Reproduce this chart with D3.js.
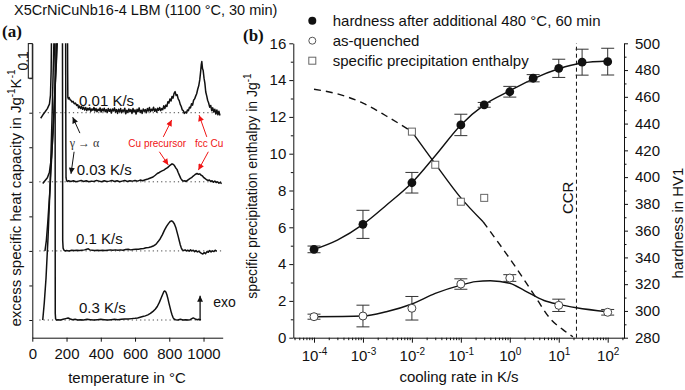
<!DOCTYPE html>
<html>
<head>
<meta charset="utf-8">
<script src="https://cdn.jsdelivr.net/npm/d3@7"></script>
<style>
  body { margin: 0; background: #fff; }
  svg { display: block; }
  text { font-family: "Liberation Sans", Arial, sans-serif; fill: #111; }
</style>
</head>
<body>
<div id="chart"></div>
<script>
// ---------- panel (a): DSC traces ----------
const tempTicks = [0, 200, 400, 600, 800, 1000];
const cpTicks = [0, 0.1, 0.2, 0.3, 0.4, 0.5, 0.6, 0.7, 0.8];
const rateLabels = ['0.01 K/s', '0.03 K/s', '0.1 K/s', '0.3 K/s'];
const rateOffsets = [0.6, 0.4, 0.2, 0];
const rateLabelT = [273, 259, 255, 273];
const baselineEndT = [1096, 1106, 1106, 989];

// [temperature °C, excess cp J/gK] relative to each trace's own baseline
const curve001 = [[49,-0.016],[62,-0.006],[74,0.002],[88,0.012],[100,0.025],[106,0.05],[110,0.12],[114,0.3],[118,0.5],[204,0.5],[206.5,0.12],[207.5,0.045],[211,0.04],[215,0.044],[220,0.038],[226,0.036],[232,0.031],[238,0.033],[245,0.026],[252,0.028],[259,0.021],[266,0.023],
  [270,0.014],[276,0.019],[282,0.012],[288,0.018],[294,0.010],[300,0.016],[306,0.008],[312,0.015],[318,0.006],[324,0.013],[330,0.008],[336,0.014],[342,0.004],[348,0.011],[354,0.007],[360,0.015],[366,0.005],[372,0.012],[378,0.003],[384,0.010],[390,0.006],[396,0.014],[402,0.002],[408,0.011],[414,0.005],[420,0.013],[426,0.003],[432,0.009],[438,0.001],[444,0.012],[450,0.004],[456,0.010],[462,-0.001],[468,0.011],[474,0.005],[480,0.014],[486,0.002],[492,0.009],[498,-0.002],[504,0.010],[510,0.003],[516,0.012],[522,0.000],[528,0.008],[534,0.004],[540,0.013],[546,-0.003],[552,0.007],[558,0.001],[564,0.011],[570,0.003],[576,0.009],[582,-0.002],[588,0.012],[594,0.002],[600,0.008],[606,-0.004],[612,0.010],[618,0.003],[624,0.014],[630,0.001],[636,0.007],[642,-0.002],[648,0.011],[654,0.004],[660,0.009],[666,0.000],[672,0.012],[678,0.005],[684,0.015],[690,0.003],[696,0.010],[702,0.006],[708,0.016],[714,0.004],[720,0.011],[726,0.002],[732,0.013],[738,0.007],[744,0.015],[750,0.006],[756,0.012],[762,0.009],[768,0.020],[774,0.012],[780,0.022],[786,0.018],[792,0.032],[798,0.028],[804,0.040],[810,0.034],[816,0.047],[822,0.042],[828,0.056],[834,0.061],[840,0.050],[846,0.052],[852,0.040],[858,0.035],[864,0.024],[870,0.018],[876,0.008],[882,0.006],[888,-0.002],[894,0.002],[900,-0.001],[906,0.008],[912,0.006],[918,0.016],[924,0.014],[930,0.026],[936,0.022],[942,0.036],[948,0.040],[954,0.048],[960,0.055],[966,0.068],[972,0.078],[978,0.095],[983,0.118],[987,0.140],[990,0.148],[994,0.128],[998,0.122],[1003,0.100],[1008,0.085],[1013,0.060],[1019,0.048],[1024,0.036],[1030,0.028],[1036,0.016],[1042,0.021],[1048,0.006],[1054,0.014],[1060,0.002],[1066,0.010],[1072,-0.004],[1078,0.008],[1084,-0.006],[1090,0.004],[1096,-0.008]];

const curve003 = [[61,-0.005],[75,0.004],[88,0.012],[100,0.028],[112,0.07],[122,0.15],[132,0.26],[142,0.36],[150,0.45],[158,0.6],[194,0.6],[196,0.1],[197,0.012],[200,0.004],[205,0.001],[212,0.003],
  [225,0.001],[240,0.003],[255,0.0],[270,0.002],[285,0.004],[300,0.001],[315,0.003],[330,0.0],[345,0.002],[360,0.001],[375,0.004],[390,0.002],[405,0.0],[420,0.003],[435,0.001],[450,0.002],[465,0.004],[480,0.001],[495,0.003],[510,0.0],[525,0.002],[540,0.004],[555,0.001],[570,0.003],[585,0.002],[600,0.004],[615,0.002],[630,0.005],[645,0.003],[660,0.006],[675,0.008],[690,0.011],[705,0.014],[718,0.019],[730,0.024],[742,0.027],[755,0.031],[768,0.034],[780,0.038],[790,0.041],[800,0.046],[808,0.049],[816,0.052],[824,0.050],[830,0.047],[838,0.040],[845,0.036],[852,0.027],[860,0.018],[867,0.010],[874,0.005],[882,0.002],[890,0.003],[898,0.001],[906,0.004],[914,0.007],[922,0.010],[930,0.012],[938,0.016],[946,0.019],[954,0.022],[962,0.024],[970,0.022],[978,0.023],[986,0.019],[994,0.017],[1002,0.012],[1010,0.009],[1018,0.006],[1026,0.004],[1034,0.005],[1042,0.001],[1050,0.003],[1058,-0.001],[1066,0.002],[1074,-0.002],[1082,0.000],[1090,-0.004],[1098,-0.002],[1106,-0.005]];

const curve01 = [[74,0.0],[82,0.03],[90,0.08],[103,0.176],[115,0.29],[128,0.42],[140,0.55],[148,0.7],[176,0.7],[177.5,0.03],[180,0.008],[185,0.002],[192,0.0],
  [200,0.001],[215,0.0],[230,0.002],[245,0.001],[260,0.002],[275,0.001],[290,0.002],[305,0.003],[318,0.005],[327,0.006],[336,0.003],[350,0.002],[365,0.001],[380,0.002],[395,0.001],[410,0.002],[425,0.001],[440,0.002],[455,0.003],[470,0.002],[485,0.003],[500,0.002],[515,0.003],[530,0.002],[545,0.004],[560,0.005],[575,0.003],[590,0.004],[605,0.005],[620,0.005],[635,0.006],[650,0.007],[665,0.009],[680,0.010],[695,0.012],[710,0.015],[722,0.019],[735,0.027],[748,0.036],[760,0.047],[772,0.060],[784,0.071],[795,0.079],[805,0.085],[814,0.087],[822,0.084],[830,0.078],[838,0.068],[845,0.055],[852,0.042],[858,0.030],[864,0.018],[870,0.009],[876,0.003],[884,0.001],[892,0.003],[900,0.000],[908,0.002],[916,-0.001],[924,0.003],[932,0.000],[940,0.002],[948,-0.002],[956,0.001],[964,-0.003],[972,-0.001],[980,-0.004],[988,-0.007],[996,-0.009],[1004,-0.005],[1012,-0.008],[1020,-0.002],[1028,-0.004],[1036,0.001],[1044,-0.003],[1052,0.000],[1060,-0.002],[1068,0.002],[1077,-0.001]];

const curve03 = [[61,0.0],[70,0.05],[80,0.12],[92,0.24],[103,0.378],[115,0.58],[126,0.8],[130,0.95],[133,0.95],[134,0.02],[136,0.004],[140,0.0],
  [150,0.001],[165,0.0],[180,0.002],[195,0.004],[209,0.006],[222,0.003],[235,0.001],[250,0.002],[265,0.0],[280,0.001],[300,0.0],[320,0.002],[340,0.001],[360,0.0],[380,0.001],[400,0.002],[420,0.001],[440,0.0],[460,0.001],[480,0.002],[500,0.001],[520,0.002],[540,0.003],[560,0.003],[580,0.004],[600,0.005],[615,0.006],[630,0.008],[645,0.010],[660,0.012],[675,0.015],[690,0.019],[705,0.025],[718,0.031],[730,0.039],[742,0.051],[752,0.063],[761,0.074],[768,0.082],[774,0.084],[780,0.081],[786,0.073],[792,0.062],[798,0.049],[805,0.035],[810,0.025],[816,0.015],[822,0.007],[828,0.003],[836,0.001],[850,0.000],[865,0.002],[880,0.000],[895,0.001],[910,0.000],[922,0.001],[932,0.004],[940,0.006],[948,0.004],[956,0.002],[964,0.001],[972,0.002],[985,0.0]];

const curvesA = [curve001, curve003, curve01, curve03];

// annotation arrows in panel (a): [T0, cp0, T1, cp1] on the absolute axis
const redArrows = [[765,0.530,814,0.579],[742,0.487,794,0.449],[1019,0.530,974,0.593],[1028,0.487,970,0.434]];
const gammaArrows = [[278,0.541,236,0.587],[244,0.487,226,0.423]];
const exoArrow = [980, 0, 980, 0.07];

// ---------- panel (b): hardness / enthalpy vs cooling rate ----------
const rateTicks = [1e-4, 1e-3, 1e-2, 1e-1, 1, 10, 100];
const enthalpyTicks = [0, 2, 4, 6, 8, 10, 12, 14, 16];
const hvTicks = [280, 300, 320, 340, 360, 380, 400, 420, 440, 460, 480, 500];

const agedRates = [1e-4, 1e-3, 1e-2, 0.1, 0.3, 1, 3, 10, 30, 100];
const hvAged = [346, 364.7, 395.8, 439, 454, 463.8, 473.9, 481.3, 485.9, 486.3];
const hvAgedErr = [2.5, 10.5, 7.7, 8, 1.8, 4, 2.7, 6.8, 9.7, 10];

const quenchRates = [1e-4, 1e-3, 1e-2, 0.1, 1, 10, 100];
const hvQuenched = [295.7, 296.2, 302, 320.1, 324.6, 304.2, 299];
const hvQuenchedErr = [1.9, 8.1, 8.8, 3.9, 2.5, 4.6, 2.1];

const enthalpyRates = [0.01, 0.03, 0.1, 0.3];
const enthalpy = [11.2, 9.4, 7.39, 7.6];

const fitAged = [[1e-4,346],[3e-4,353],[1e-3,364.7],[3e-3,379],[1e-2,395.8],[3e-2,416],[0.1,439],[0.3,454],[1,464.5],[3,473.5],[10,481],[30,485.3],[100,486.8]];
const fitQuenched = [[1e-4,295.7],[1e-3,296.2],[3e-3,299.4],[1e-2,305.2],[3e-2,313.1],[0.1,319.3],[0.2,321.9],[0.4,322.6],[1,320.7],[2,315.2],[5,307.8],[10,304.9],[23,302.4],[100,299.4]];
const fitEnthalpyLow = [[1e-4,13.5],[3e-4,13.25],[1e-3,12.75],[3e-3,12.05],[1e-2,11.2]];
const fitEnthalpy = [[0.01,11.2],[0.03,9.45],[0.1,7.6],[0.285,6.3]];
const fitEnthalpyHigh = [[0.285,6.3],[1.37,3.77],[3,2.41],[7.1,0.96],[12,0.45],[19.5,0.05]];
const ccrRate = 23;

const legendItems = ['hardness after additional 480 °C, 60 min', 'as-quenched', 'specific precipitation enthalpy'];

// ---------- drawing ----------
const W = 685, H = 390;
const svg = d3.select('#chart').append('svg').attr('width', W).attr('height', H);

const defs = svg.append('defs');
function marker(id, color, w, h) {
  defs.append('marker').attr('id', id)
    .attr('viewBox', '0 0 10 10').attr('refX', 10).attr('refY', 5)
    .attr('markerUnits', 'userSpaceOnUse')
    .attr('markerWidth', w).attr('markerHeight', h)
    .attr('orient', 'auto')
    .append('path').attr('d', 'M0,0 L10,5 L0,10 z').attr('fill', color);
}
marker('headBlack', '#111', 8, 6);
marker('headRed', '#f01414', 7, 6);

svg.append('text').attr('x', 14).attr('y', 15).attr('font-size', 14.5)
  .text('X5CrNiCuNb16-4 LBM (1100 °C, 30 min)');

function panelLetter(x, y, s) {
  svg.append('text').attr('x', x).attr('y', y)
    .style('font-family', '"Liberation Serif", "Times New Roman", serif')
    .attr('font-weight', 'bold').attr('font-size', 17).text(s);
}
panelLetter(2, 37, '(a)');
panelLetter(243, 41, '(b)');

// --- panel (a)
const xA = d3.scaleLinear().domain([0, 1112]).range([32.3, 222.7]);
const yA = d3.scaleLinear().domain([-0.0512, 0.8009]).range([337.7, 43.3]);

defs.append('clipPath').attr('id', 'clipA').append('rect')
  .attr('x', xA.range()[0]).attr('y', yA.range()[1])
  .attr('width', 220).attr('height', yA.range()[0] - yA.range()[1]);

const gA = svg.append('g');

// dotted baselines
gA.selectAll('line.base').data(rateOffsets).join('line')
  .attr('x1', xA(41)).attr('x2', (d, i) => xA(baselineEndT[i]))
  .attr('y1', d => yA(d)).attr('y2', d => yA(d))
  .attr('stroke', '#444').attr('stroke-width', 1).attr('stroke-dasharray', '1.2,3');

const lineA = d3.line().x(d => xA(d[0])).y(d => yA(d[1]));
gA.append('g').attr('clip-path', 'url(#clipA)')
  .selectAll('path').data(curvesA).join('path')
  .attr('d', (c, i) => lineA(c.map(p => [p[0], p[1] + rateOffsets[i]])))
  .attr('fill', 'none').attr('stroke', '#111').attr('stroke-width', 1.5)
  .attr('stroke-linejoin', 'round');

gA.selectAll('text.rate').data(rateLabels).join('text')
  .attr('x', (d, i) => xA(rateLabelT[i]))
  .attr('y', (d, i) => yA(rateOffsets[i] + 0.02))
  .attr('font-size', 15).text(d => d);

// axes (a)
const axA = svg.append('g').attr('transform', `translate(0,${yA.range()[0]})`)
  .call(d3.axisBottom(xA).tickValues(tempTicks).tickSize(4).tickSizeOuter(0).tickPadding(7).tickFormat(d3.format('d')));
const ayA = svg.append('g').attr('transform', `translate(${xA.range()[0]},0)`)
  .call(d3.axisLeft(yA).tickValues(cpTicks).tickSize(3).tickSizeOuter(0).tickFormat(''));
[axA, ayA].forEach(g => {
  g.selectAll('text').attr('font-size', 15).attr('fill', '#111').style('font-family', '"Liberation Sans", Arial, sans-serif');
  g.selectAll('path,line').attr('stroke', '#111');
});

// scale bar 0.1 J/gK
svg.append('rect').attr('x', xA.range()[0] - 4).attr('y', yA(0.8))
  .attr('width', 4).attr('height', yA(0.7) - yA(0.8))
  .attr('fill', '#fff').attr('stroke', '#111').attr('stroke-width', 1);
svg.append('text').attr('transform', `translate(28,${yA(0.75)}) rotate(-90)`)
  .attr('text-anchor', 'middle').attr('font-size', 14).text('0.1');

// axis titles (a)
svg.append('text').attr('x', 127).attr('y', 383).attr('text-anchor', 'middle')
  .attr('font-size', 15).text('temperature in °C');
const ylabA = svg.append('text').attr('transform', 'translate(21,198) rotate(-90)')
  .attr('text-anchor', 'middle').attr('font-size', 15);
ylabA.append('tspan').text('excess specific heat capacity in Jg');
ylabA.append('tspan').attr('dy', -6).attr('font-size', 10).text('-1');
ylabA.append('tspan').attr('dy', 6).text('K');
ylabA.append('tspan').attr('dy', -6).attr('font-size', 10).text('-1');

// annotations (a)
function arrows(data, color, head, width) {
  gA.append('g').selectAll('line').data(data).join('line')
    .attr('x1', d => xA(d[0])).attr('y1', d => yA(d[1]))
    .attr('x2', d => xA(d[2])).attr('y2', d => yA(d[3]))
    .attr('stroke', color).attr('stroke-width', width)
    .attr('marker-end', `url(#${head})`);
}
arrows(redArrows, '#f01414', 'headRed', 1);
arrows(gammaArrows, '#111', 'headBlack', 1);
arrows([exoArrow], '#111', 'headBlack', 1.3);

gA.append('text').attr('x', xA(561)).attr('y', yA(0.5)).attr('font-size', 10)
  .style('fill', '#f01414').text('Cu precursor');
gA.append('text').attr('x', xA(950)).attr('y', yA(0.5)).attr('font-size', 10)
  .style('fill', '#f01414').text('fcc Cu');
gA.append('text').attr('x', xA(218)).attr('y', yA(0.5)).attr('font-size', 12)
  .style('font-family', '"Liberation Serif", "Times New Roman", serif').style('fill', '#333')
  .text('γ → α');
gA.append('text').attr('x', xA(1057)).attr('y', yA(0.038)).attr('font-size', 14).text('exo');

// --- panel (b)
const xB = d3.scaleLog().domain([Math.pow(10, -4.423), Math.pow(10, 2.333)]).range([293.3, 624]);
const yL = d3.scaleLinear().domain([0, 16]).range([337.7, 43.3]);
const yR = d3.scaleLinear().domain([280, 500]).range([337.7, 43.3]);

const gB = svg.append('g');

// CCR
gB.append('line').attr('x1', xB(ccrRate)).attr('x2', xB(ccrRate))
  .attr('y1', yL(0)).attr('y2', yL(16))
  .attr('stroke', '#111').attr('stroke-width', 1).attr('stroke-dasharray', '4,3');
gB.append('text').attr('transform', `translate(${xB(ccrRate) - 3.5},${yL(7.6)}) rotate(-90)`)
  .attr('text-anchor', 'middle').attr('font-size', 15).text('CCR');

const lineR = d3.line().x(d => xB(d[0])).y(d => yR(d[1])).curve(d3.curveMonotoneX);
const lineL = d3.line().x(d => xB(d[0])).y(d => yL(d[1])).curve(d3.curveMonotoneX);

gB.append('path').attr('d', lineL(fitEnthalpyLow)).attr('fill', 'none')
  .attr('stroke', '#111').attr('stroke-width', 1.4).attr('stroke-dasharray', '7,5');
gB.append('path').attr('d', lineL(fitEnthalpy)).attr('fill', 'none')
  .attr('stroke', '#111').attr('stroke-width', 1.4);
gB.append('path').attr('d', lineL(fitEnthalpyHigh)).attr('fill', 'none')
  .attr('stroke', '#111').attr('stroke-width', 1.4).attr('stroke-dasharray', '7,5');
gB.append('path').attr('d', lineR(fitAged)).attr('fill', 'none')
  .attr('stroke', '#111').attr('stroke-width', 1.4);
gB.append('path').attr('d', lineR(fitQuenched)).attr('fill', 'none')
  .attr('stroke', '#111').attr('stroke-width', 1.4);

function errorBars(rates, vals, errs) {
  const g = gB.append('g').attr('stroke', '#333').attr('stroke-width', 1).attr('fill', 'none');
  rates.forEach((r, i) => {
    const x = xB(r), y0 = yR(vals[i] - errs[i]), y1 = yR(vals[i] + errs[i]);
    g.append('line').attr('x1', x).attr('x2', x).attr('y1', y0).attr('y2', y1);
    g.append('line').attr('x1', x - 6.5).attr('x2', x + 6.5).attr('y1', y0).attr('y2', y0);
    g.append('line').attr('x1', x - 6.5).attr('x2', x + 6.5).attr('y1', y1).attr('y2', y1);
  });
}
errorBars(agedRates, hvAged, hvAgedErr);
errorBars(quenchRates, hvQuenched, hvQuenchedErr);

gB.append('g').selectAll('circle').data(agedRates).join('circle')
  .attr('cx', d => xB(d)).attr('cy', (d, i) => yR(hvAged[i])).attr('r', 4.4)
  .attr('fill', '#111');
gB.append('g').selectAll('circle').data(quenchRates).join('circle')
  .attr('cx', d => xB(d)).attr('cy', (d, i) => yR(hvQuenched[i])).attr('r', 4)
  .attr('fill', '#fff').attr('stroke', '#444').attr('stroke-width', 1);
gB.append('g').selectAll('rect').data(enthalpyRates).join('rect')
  .attr('x', d => xB(d) - 3.5).attr('y', (d, i) => yL(enthalpy[i]) - 3.5)
  .attr('width', 7).attr('height', 7)
  .attr('fill', '#fff').attr('stroke', '#666').attr('stroke-width', 1);

// axes (b)
const axB = svg.append('g').attr('transform', `translate(0,${yL.range()[0]})`)
  .call(d3.axisBottom(xB).tickValues(rateTicks).tickSize(5).tickSizeOuter(0).tickPadding(8));
const minorRates = xB.ticks().filter(d => !rateTicks.includes(d));
svg.append('g').attr('transform', `translate(0,${yL.range()[0]})`)
  .call(d3.axisBottom(xB).tickValues(minorRates).tickSize(2.5).tickFormat(''))
  .call(g => g.select('.domain').remove());
axB.selectAll('.tick text').each(function (d) {
  const t = d3.select(this);
  t.text('10');
  t.append('tspan').attr('dy', -6).attr('font-size', 10).text(Math.round(Math.log10(d)));
});

const ayL = svg.append('g').attr('transform', `translate(${xB.range()[0]},0)`)
  .call(d3.axisLeft(yL).tickValues(enthalpyTicks).tickSize(4).tickSizeOuter(0).tickPadding(3));
svg.append('g').attr('transform', `translate(${xB.range()[0]},0)`)
  .call(d3.axisLeft(yL).tickValues(d3.range(1, 16, 2)).tickSize(2.5).tickFormat(''))
  .call(g => g.select('.domain').remove());

const ayR = svg.append('g').attr('transform', `translate(${xB.range()[1]},0)`)
  .call(d3.axisRight(yR).tickValues(hvTicks).tickSize(4).tickSizeOuter(0).tickPadding(7));
svg.append('g').attr('transform', `translate(${xB.range()[1]},0)`)
  .call(d3.axisRight(yR).tickValues(d3.range(290, 500, 20)).tickSize(2.5).tickFormat(''))
  .call(g => g.select('.domain').remove());

svg.selectAll('.tick text').attr('font-size', 15).attr('fill', '#111')
  .style('font-family', '"Liberation Sans", Arial, sans-serif');
svg.selectAll('.tick line, .domain').attr('stroke', '#111');

// axis titles (b)
svg.append('text').attr('x', 459).attr('y', 382).attr('text-anchor', 'middle')
  .attr('font-size', 15).text('cooling rate in K/s');
const ylabB = svg.append('text').attr('transform', 'translate(257,186) rotate(-90)')
  .attr('text-anchor', 'middle').attr('font-size', 14);
ylabB.append('tspan').text('specific precipitation enthalpy in Jg');
ylabB.append('tspan').attr('dy', -6).attr('font-size', 10).text('-1');
svg.append('text').attr('transform', 'translate(683,223) rotate(-90)')
  .attr('text-anchor', 'middle').attr('font-size', 15).text('hardness in HV1');

// legend
const leg = svg.append('g').attr('transform', 'translate(312.3,20.7)');
leg.append('circle').attr('cx', 0).attr('cy', 0).attr('r', 4).attr('fill', '#111');
leg.append('circle').attr('cx', 0).attr('cy', 20).attr('r', 3.5)
  .attr('fill', '#fff').attr('stroke', '#555');
leg.append('rect').attr('x', -3.5).attr('y', 36.5).attr('width', 7).attr('height', 7)
  .attr('fill', '#fff').attr('stroke', '#666');
leg.selectAll('text').data(legendItems).join('text')
  .attr('x', 20.4).attr('y', (d, i) => i * 20 + 5.3)
  .attr('font-size', 15).text(d => d);
</script>
</body>
</html>
